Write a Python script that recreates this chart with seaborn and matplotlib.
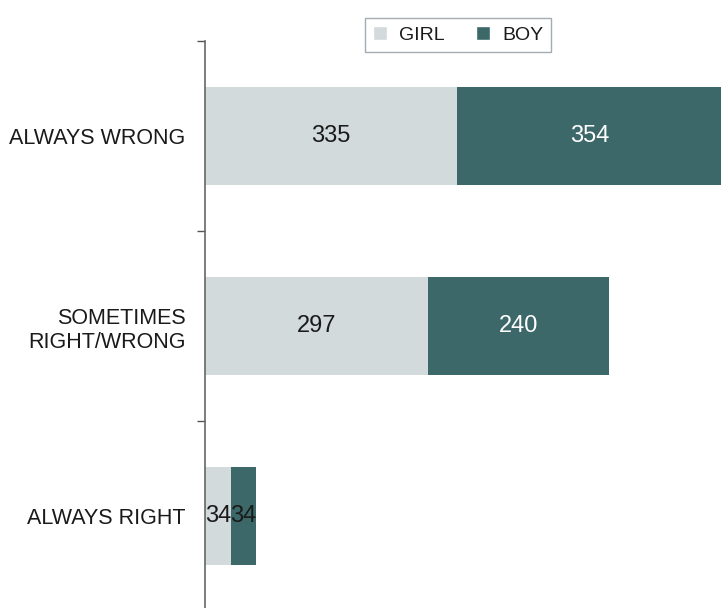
import matplotlib
matplotlib.use("Agg")
import matplotlib.pyplot as plt
import seaborn as sns
from matplotlib.patches import Patch
from matplotlib.ticker import FixedLocator
from pandas import DataFrame

categories = ["ALWAYS WRONG", "SOMETIMES\nRIGHT/WRONG", "ALWAYS RIGHT"]
girl = [335, 297, 34]
boy = [354, 240, 34]

GIRL_COLOR = "#d3dadc"
BOY_COLOR = "#3d6869"

sns.set_theme(style="white")
plt.rcParams['font.family'] = ['Liberation Sans', 'DejaVu Sans']

df = DataFrame({"cat": categories, "girl": girl, "boy": boy})
df["total"] = df["girl"] + df["boy"]

fig = plt.figure(figsize=(7.21, 6.08), dpi=100)
ax = fig.add_axes([205 / 721, -3 / 608, 1 - 205 / 721, 570 / 608])

# stacked: total in boy colour, girl drawn over it
sns.barplot(data=df, y="cat", x="total", color=BOY_COLOR, width=0.52,
            orient="h", ax=ax, saturation=1, linewidth=0)
sns.barplot(data=df, y="cat", x="girl", color=GIRL_COLOR, width=0.52,
            orient="h", ax=ax, saturation=1, linewidth=0)

ax.set_xlim(0, 686)
ax.set_ylim(2.5, -0.5)

for i in range(len(categories)):
    g, b = girl[i], boy[i]
    ax.text(g / 2, i, str(g), ha="center", va="center", fontsize=17,
            color="#1a1a1a")
    ax.text(g + b / 2, i, str(b), ha="center", va="center", fontsize=17,
            color="white" if b > 100 else "#1a1a1a")

ax.set_xlabel("")
ax.set_ylabel("")
ax.set_xticks([])
ax.tick_params(axis="y", which="major", length=0, pad=14, labelsize=15.5,
               labelcolor="#1a1a1a")
ax.yaxis.set_minor_locator(FixedLocator([-0.5, 0.5, 1.5, 2.5]))
ax.tick_params(axis="y", which="minor", length=6, width=1, color="#555555",
               direction="out", left=True)
for s in ["top", "right", "bottom"]:
    ax.spines[s].set_visible(False)
ax.spines["left"].set_color("#666666")
ax.spines["left"].set_linewidth(1.2)

handles = [Patch(facecolor=GIRL_COLOR, label="GIRL"),
           Patch(facecolor=BOY_COLOR, label="BOY")]
fig.legend(handles=handles, loc="upper center", bbox_to_anchor=(0.635, 0.970),
           ncol=2, frameon=True, fancybox=False, edgecolor="#8c979d",
           fontsize=14, handlelength=0.75, handleheight=0.75,
           handletextpad=0.6, columnspacing=1.6, borderpad=0.4,
           borderaxespad=0, labelcolor="#1a1a1a")

fig.savefig("out.png", dpi=100)
